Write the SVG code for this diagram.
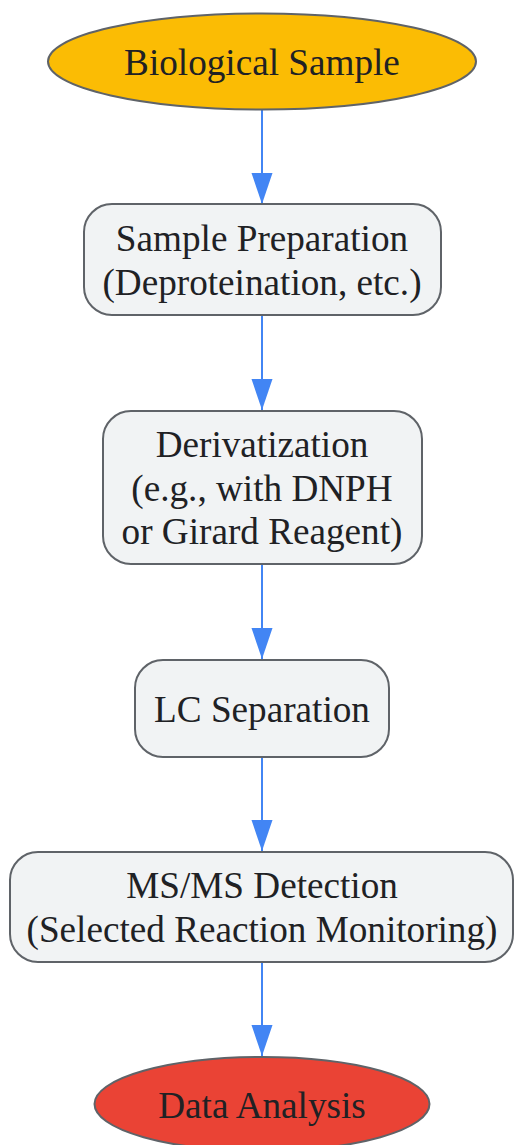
<svg xmlns="http://www.w3.org/2000/svg" width="514" height="1145" viewBox="0 0 514 1145">
<style>
  .node { stroke: #5f6368; stroke-width: 2; }
  .box { fill: #f1f3f4; }
  .lbl { font-family: "Liberation Serif", "Times New Roman", serif; font-size: 37.2px; fill: #202124; text-anchor: middle; }
  .edge { stroke: #4285f4; stroke-width: 2; fill: none; }
</style>
<defs>
  <marker id="arrow" markerUnits="userSpaceOnUse" markerWidth="32" markerHeight="22" refX="31" refY="10.5" orient="auto">
    <path d="M0,0 L31,10.5 L0,21 Z" fill="#4285f4"/>
  </marker>
</defs>
<rect width="514" height="1145" fill="#ffffff"/>
<g id="connectors">
  <path class="edge" d="M262,110 L262,204" marker-end="url(#arrow)"/>
  <path class="edge" d="M262,315 L262,410" marker-end="url(#arrow)"/>
  <path class="edge" d="M262,564 L262,659" marker-end="url(#arrow)"/>
  <path class="edge" d="M262,757 L262,851" marker-end="url(#arrow)"/>
  <path class="edge" d="M262,962 L262,1056" marker-end="url(#arrow)"/>
</g>
<g id="biological-sample">
  <ellipse class="node" cx="262" cy="61.5" rx="214" ry="48" fill="#fbbc04"/>
  <text class="lbl" x="262" y="74.5">Biological Sample</text>
</g>
<g id="sample-preparation">
  <rect class="node box" x="84" y="204" width="357" height="111" rx="28"/>
  <text class="lbl" x="262" y="251">Sample Preparation</text>
  <text class="lbl" x="262" y="295">(Deproteination, etc.)</text>
</g>
<g id="derivatization">
  <rect class="node box" x="103" y="411" width="319" height="153" rx="28"/>
  <text class="lbl" x="262" y="457">Derivatization</text>
  <text class="lbl" x="262" y="501">(e.g., with DNPH</text>
  <text class="lbl" x="262" y="544">or Girard Reagent)</text>
</g>
<g id="lc-separation">
  <rect class="node box" x="135" y="660" width="254" height="97" rx="28"/>
  <text class="lbl" x="262" y="722">LC Separation</text>
</g>
<g id="ms-detection">
  <rect class="node box" x="10" y="852" width="503" height="110" rx="28"/>
  <text class="lbl" x="262" y="898">MS/MS Detection</text>
  <text class="lbl" x="262" y="942">(Selected Reaction Monitoring)</text>
</g>
<g id="data-analysis">
  <ellipse class="node" cx="262" cy="1104" rx="167.5" ry="47" fill="#ea4335"/>
  <text class="lbl" x="262" y="1118">Data Analysis</text>
</g>
</svg>
